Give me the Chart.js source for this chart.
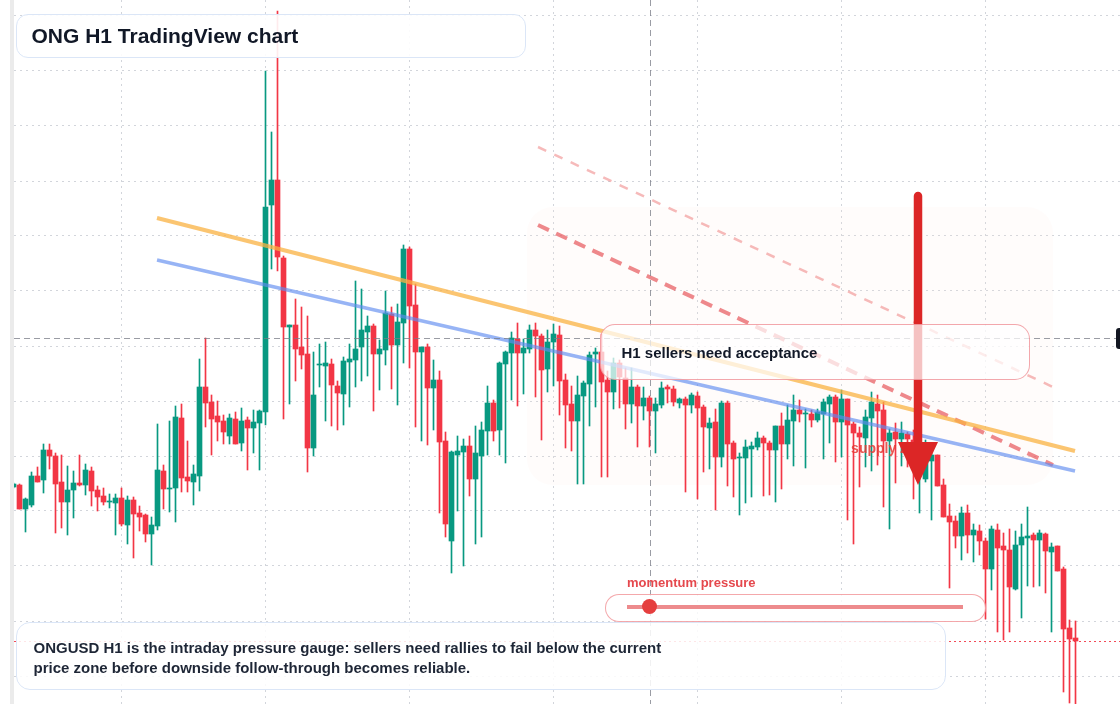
<!DOCTYPE html>
<html>
<head>
<meta charset="utf-8">
<script src="https://cdn.jsdelivr.net/npm/chart.js@4.4.1/dist/chart.umd.min.js"></script>
<style>
  html, body { margin: 0; padding: 0; background: #fff; }
  #wrap { position: relative; width: 1120px; height: 704px; overflow: hidden; font-family: "Liberation Sans", Arial, Helvetica, sans-serif; }
  #chart { position: absolute; left: 0; top: 0; }
  .strip { position: absolute; left: 10px; top: 0; width: 4px; height: 704px; background: #ebebeb; }
  .box { position: absolute; box-sizing: border-box; }
  #title { left: 16px; top: 14px; width: 510px; height: 44px; border: 1.5px solid #dbe6f7; border-radius: 12px; background: rgba(255,255,255,0.9); font-size: 21px; font-weight: 700; color: #111827; line-height: 41px; padding-left: 14.5px; }
  #note { left: 600px; top: 324px; width: 430px; height: 56px; border: 1.5px solid rgba(236,120,128,0.65); border-radius: 15px; background: rgba(255,255,255,0.72); font-size: 15px; font-weight: 700; color: #111827; line-height: 51px; padding: 2px 0 0 20.5px; }
  #summary { left: 16px; top: 622px; width: 930px; height: 68px; border: 1.5px solid #dbe6f7; border-radius: 14px; background: rgba(255,255,255,0.86); font-size: 15px; font-weight: 700; color: #1e2636; line-height: 20px; padding: 14.5px 0 0 16.5px; }
  #mom-label { position: absolute; left: 627px; top: 575px; font-size: 13px; line-height: 15px; font-weight: 700; color: #e5484d; }
  #mom { left: 605px; top: 594px; width: 381px; height: 28px; border: 1.5px solid rgba(236,110,115,0.6); border-radius: 14px; background: rgba(255,255,255,0.8); }
  #mom-track { position: absolute; left: 20.5px; top: 9.5px; width: 336px; height: 4px; background: rgba(233,110,112,0.8); }
  #mom-dot { position: absolute; left: 36px; top: 4px; width: 15px; height: 15px; border-radius: 50%; background: #e53e3e; }
</style>
</head>
<body>
<div id="wrap">
  <canvas id="chart" width="1120" height="704"></canvas>
  <div class="strip"></div>
  <div class="box" id="title">ONG H1 TradingView chart</div>
  <div class="box" id="note">H1 sellers need acceptance</div>
  <div class="box" id="summary">ONGUSD H1 is the intraday pressure gauge: sellers need rallies to fail below the current<br>price zone before downside follow-through becomes reliable.</div>
  <div id="mom-label">momentum pressure</div>
  <div class="box" id="mom"><div id="mom-track"></div><div id="mom-dot"></div></div>
</div>
<script>
// ONGUSD H1 candles, oldest first
const open = [
  .1729,.1731,.1707,.1711,.1740,.1736,.1766,.1760,.1734,.1714,
  .1726,.1733,.1731,.1745,.1726,.1720,.1714,.1713,.1718,.1691,
  .1716,.1703,.1701,.1682,.1690,.1745,.1727,.1728,.1798,.1739,
  .1734,.1740,.1829,.1814,.1800,.1795,.1780,.1797,.1773,.1796,
  .1788,.1793,.1804,.2011,.2036,.1958,.1889,.1891,.1869,.1862,
  .1768,.1851,.1850,.1852,.1830,.1822,.1854,.1856,.1869,.1884,
  .1890,.1862,.1866,.1902,.1871,.1893,.1967,.1911,.1864,.1869,
  .1828,.1836,.1775,.1675,.1761,.1764,.1770,.1737,.1760,.1785,
  .1813,.1786,.1852,.1863,.1877,.1863,.1867,.1886,.1880,.1847,
  .1874,.1881,.1836,.1812,.1795,.1820,.1832,.1862,.1864,.1836,
  .1824,.1853,.1838,.1812,.1829,.1810,.1818,.1805,.1811,.1829,
  .1827,.1813,.1817,.1811,.1820,.1809,.1788,.1794,.1759,.1813,
  .1773,.1758,.1758,.1767,.1769,.1778,.1773,.1766,.1790,.1772,
  .1795,.1806,.1802,.1802,.1796,.1802,.1812,.1819,.1794,.1817,
  .1792,.1783,.1778,.1798,.1812,.1806,.1775,.1784,.1777,.1782,
  .1776,.1766,.1737,.1755,.1761,.1731,.1700,.1695,.1680,.1703,
  .1681,.1685,.1675,.1647,.1686,.1670,.1666,.1627,.1671,.1678,
  .1681,.1676,.1682,.1664,.1670,.1647,.1588,.1578
];
const high = [
  .1733,.1732,.1718,.1744,.1749,.1772,.1772,.1763,.1761,.1750,
  .1745,.1761,.1752,.1749,.1730,.1728,.1722,.1722,.1728,.1720,
  .1719,.1710,.1702,.1699,.1792,.1751,.1795,.1810,.1812,.1775,
  .1751,.1857,.1878,.1821,.1815,.1801,.1802,.1804,.1808,.1799,
  .1806,.1806,.2145,.2084,.2205,.1960,.1891,.1917,.1909,.1900,
  .1864,.1872,.1874,.1857,.1835,.1859,.1872,.1935,.1927,.1900,
  .1892,.1876,.1925,.1909,.1912,.1971,.1969,.1932,.1869,.1872,
  .1856,.1845,.1784,.1765,.1780,.1777,.1780,.1790,.1794,.1830,
  .1816,.1854,.1865,.1884,.1893,.1877,.1891,.1893,.1882,.1886,
  .1892,.1890,.1842,.1830,.1840,.1835,.1864,.1868,.1882,.1845,
  .1858,.1856,.1848,.1848,.1831,.1829,.1820,.1818,.1834,.1831,
  .1830,.1818,.1819,.1823,.1824,.1811,.1798,.1807,.1815,.1815,
  .1775,.1763,.1776,.1774,.1784,.1780,.1775,.1790,.1803,.1811,
  .1821,.1816,.1807,.1806,.1807,.1817,.1821,.1821,.1826,.1817,
  .1794,.1789,.1806,.1824,.1821,.1814,.1787,.1793,.1794,.1784,
  .1786,.1780,.1776,.1766,.1761,.1737,.1712,.1700,.1709,.1711,
  .1692,.1691,.1678,.1690,.1692,.1683,.1687,.1685,.1692,.1709,
  .1683,.1686,.1683,.1673,.1670,.1649,.1596,.1595
];
const low = [
  .1728,.1707,.1684,.1709,.1734,.1723,.1747,.1683,.1688,.1681,
  .1698,.1730,.1721,.1710,.1705,.1711,.1708,.1681,.1690,.1672,
  .1658,.1685,.1674,.1651,.1686,.1707,.1704,.1694,.1724,.1724,
  .1711,.1725,.1789,.1761,.1775,.1772,.1772,.1772,.1765,.1746,
  .1763,.1746,.1791,.1947,.1945,.1797,.1812,.1835,.1847,.1744,
  .1760,.1829,.1795,.1790,.1786,.1791,.1809,.1829,.1835,.1840,
  .1805,.1826,.1851,.1827,.1811,.1853,.1848,.1789,.1775,.1771,
  .1786,.1703,.1679,.1643,.1705,.1650,.1720,.1672,.1679,.1761,
  .1775,.1761,.1753,.1816,.1810,.1822,.1863,.1819,.1776,.1824,
  .1830,.1801,.1768,.1765,.1732,.1732,.1790,.1809,.1739,.1739,
  .1807,.1808,.1787,.1793,.1769,.1796,.1769,.1763,.1808,.1813,
  .1810,.1808,.1724,.1803,.1717,.1744,.1747,.1706,.1749,.1730,
  .1719,.1701,.1713,.1719,.1766,.1720,.1721,.1714,.1727,.1757,
  .1750,.1794,.1748,.1789,.1794,.1757,.1773,.1754,.1759,.1696,
  .1672,.1729,.1749,.1745,.1751,.1709,.1687,.1733,.1750,.1749,
  .1717,.1703,.1734,.1696,.1730,.1699,.1628,.1668,.1656,.1663,
  .1654,.1661,.1597,.1626,.1584,.1576,.1584,.1626,.1598,.1630,
  .1629,.1630,.1623,.1584,.1645,.1524,.1513,.1512
];
const close = [
  .1732,.1707,.1717,.1740,.1734,.1766,.1760,.1732,.1714,.1726,
  .1733,.1731,.1746,.1725,.1719,.1714,.1715,.1718,.1692,.1716,
  .1702,.1699,.1682,.1691,.1746,.1727,.1728,.1799,.1738,.1735,
  .1742,.1829,.1813,.1797,.1794,.1784,.1798,.1772,.1795,.1788,
  .1794,.1805,.2009,.2036,.1959,.1889,.1891,.1867,.1861,.1768,
  .1821,.1852,.1853,.1831,.1823,.1855,.1857,.1867,.1886,.1890,
  .1862,.1867,.1903,.1871,.1894,.1967,.1910,.1864,.1869,.1828,
  .1836,.1774,.1692,.1764,.1765,.1770,.1737,.1763,.1786,.1813,
  .1785,.1853,.1864,.1878,.1863,.1868,.1886,.1880,.1846,.1874,
  .1882,.1835,.1811,.1795,.1821,.1833,.1861,.1864,.1834,.1824,
  .1853,.1839,.1812,.1829,.1810,.1818,.1805,.1812,.1828,.1827,
  .1814,.1817,.1811,.1821,.1808,.1789,.1793,.1759,.1813,.1772,
  .1757,.1759,.1769,.1770,.1778,.1773,.1766,.1790,.1772,.1796,
  .1806,.1802,.1803,.1796,.1804,.1814,.1819,.1794,.1817,.1791,
  .1783,.1779,.1799,.1814,.1805,.1775,.1783,.1777,.1783,.1777,
  .1770,.1772,.1759,.1761,.1730,.1699,.1694,.1680,.1703,.1681,
  .1686,.1675,.1647,.1687,.1668,.1666,.1629,.1671,.1679,.1680,
  .1676,.1683,.1665,.1669,.1645,.1587,.1577,.1575
];

// grid ticks (bar index / price)
const timeTicks = [18, 42, 66, 90, 114, 138, 162];
const priceTicks = [.2200, .2145, .2090, .2035, .1980, .1925, .1870, .1815, .1760, .1705, .1650, .1595, .1540];

// drawn trend lines, [barIndex, price] endpoints
const resistanceLine = [[23.92, .1998], [176.92, .1765]];
const supportLine = [[23.92, .1956], [176.92, .1745]];
const channelLine = [[87.42, .1991], [173.25, .1751]];
const upperChannelLine = [[87.42, .2069], [173.25, .1829]];

// annotation anchors in data space
const supplyZoneX = [85.58, 173.25];
const supplyZoneY = [.1731, .2009];
const supplyLabelAt = [139.6, .1763];
const arrowX = 150.75;
const arrowPrices = [.2020, .1774, .1731];
const crosshairAt = [106, .1878];

const UP = '#089981';
const DOWN = '#f23645';
const candleColors = close.map((c, i) => c >= open[i] ? UP : DOWN);

function toPoints(line) {
  return line.map(([x, y]) => ({ x, y }));
}

function trendDataset(line, color, width, dash) {
  return {
    type: 'line',
    data: toPoints(line),
    borderColor: color,
    borderWidth: width,
    borderDash: dash || [],
    pointRadius: 0,
    fill: false,
    tension: 0,
    order: 1,
  };
}

const overlayPlugin = {
  id: 'overlays',
  beforeDatasetsDraw(chart) {
    const { ctx, scales: { x, y } } = chart;
    const left = x.getPixelForValue(supplyZoneX[0]);
    const right = x.getPixelForValue(supplyZoneX[1]);
    const top = y.getPixelForValue(supplyZoneY[1]);
    const bottom = y.getPixelForValue(supplyZoneY[0]);
    ctx.save();
    ctx.fillStyle = 'rgba(253, 228, 218, 0.12)';
    ctx.beginPath();
    ctx.roundRect(left, top, right - left, bottom - top, 26);
    ctx.fill();
    ctx.restore();
  },
  afterDatasetsDraw(chart) {
    const { ctx, chartArea, scales: { x, y } } = chart;
    ctx.save();

    // crosshair
    const cx = Math.round(x.getPixelForValue(crosshairAt[0])) + 0.5;
    const cy = Math.round(y.getPixelForValue(crosshairAt[1])) + 0.5;
    ctx.strokeStyle = 'rgba(120, 123, 134, 0.75)';
    ctx.lineWidth = 1;
    ctx.setLineDash([6, 4]);
    ctx.beginPath();
    ctx.moveTo(cx, chartArea.top);
    ctx.lineTo(cx, chartArea.bottom);
    ctx.moveTo(chartArea.left, cy);
    ctx.lineTo(chartArea.right, cy);
    ctx.stroke();

    // last price line
    const py = Math.round(y.getPixelForValue(close[close.length - 1])) + 0.5;
    ctx.strokeStyle = 'rgba(242, 54, 69, 0.9)';
    ctx.setLineDash([2, 3]);
    ctx.beginPath();
    ctx.moveTo(chartArea.left, py);
    ctx.lineTo(chartArea.right, py);
    ctx.stroke();
    ctx.setLineDash([]);

    // crosshair price tag (cut by the right edge)
    ctx.fillStyle = '#131722';
    ctx.beginPath();
    ctx.roundRect(chartArea.right - 4, cy - 10.5, 12, 21, 3);
    ctx.fill();

    ctx.font = 'bold 14px "Liberation Sans", Arial, sans-serif';
    ctx.fillStyle = 'rgba(229, 57, 53, 0.85)';
    ctx.textBaseline = 'alphabetic';
    ctx.fillText('supply zone', x.getPixelForValue(supplyLabelAt[0]), y.getPixelForValue(supplyLabelAt[1]));

    // sell arrow
    const ax = x.getPixelForValue(arrowX);
    const aTop = y.getPixelForValue(arrowPrices[0]);
    const aHead = y.getPixelForValue(arrowPrices[1]);
    const aTip = y.getPixelForValue(arrowPrices[2]);
    ctx.strokeStyle = '#dc2626';
    ctx.lineWidth = 8.5;
    ctx.lineCap = 'round';
    ctx.beginPath();
    ctx.moveTo(ax, aTop);
    ctx.lineTo(ax, aHead + 2);
    ctx.stroke();
    ctx.fillStyle = '#dc2626';
    ctx.beginPath();
    ctx.moveTo(ax - 20, aHead);
    ctx.lineTo(ax + 20, aHead);
    ctx.lineTo(ax, aTip);
    ctx.closePath();
    ctx.fill();

    ctx.restore();
  },
};

const gridColor = 'rgba(165, 172, 184, 0.5)';

new Chart(document.getElementById('chart'), {
  type: 'bar',
  data: {
    datasets: [
      trendDataset(resistanceLine, 'rgba(250, 178, 66, 0.75)', 4),
      trendDataset(supportLine, 'rgba(96, 140, 240, 0.65)', 3.5),
      trendDataset(channelLine, 'rgba(232, 92, 96, 0.72)', 4, [12, 8]),
      trendDataset(upperChannelLine, 'rgba(240, 140, 140, 0.6)', 2.5, [9, 9]),
      {
        label: 'body',
        data: open.map((o, i) => ({ x: i, y: [o, close[i]] })),
        backgroundColor: candleColors,
        barThickness: 5,
        minBarLength: 1,
        grouped: false,
        order: 2,
      },
      {
        label: 'wick',
        data: low.map((l, i) => ({ x: i, y: [l, high[i]] })),
        backgroundColor: candleColors,
        barThickness: 1,
        grouped: false,
        order: 3,
      },
    ],
  },
  options: {
    responsive: false,
    animation: false,
    devicePixelRatio: 1,
    layout: { padding: { left: 14, right: 0, top: 0, bottom: 0 } },
    plugins: { legend: { display: false }, tooltip: { enabled: false } },
    scales: {
      x: {
        type: 'linear',
        min: 1 / 12,
        max: 1 / 12 + 1106 / 6,
        offset: false,
        ticks: { display: false },
        grid: { color: gridColor, drawTicks: false, offset: false },
        border: { display: false, dash: [2, 4] },
        afterBuildTicks(scale) { scale.ticks = timeTicks.map(value => ({ value })); },
      },
      y: {
        min: .1512,
        max: .2216,
        ticks: { display: false },
        grid: { color: gridColor, drawTicks: false },
        border: { display: false, dash: [2, 4] },
        afterBuildTicks(scale) { scale.ticks = priceTicks.map(value => ({ value })); },
      },
    },
  },
  plugins: [overlayPlugin],
});
</script>
</body>
</html>
